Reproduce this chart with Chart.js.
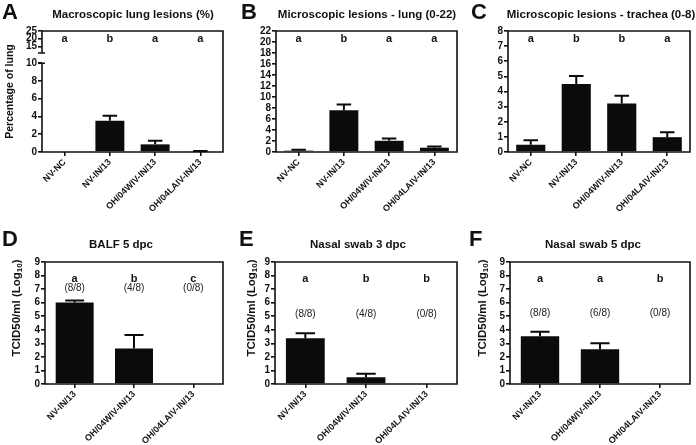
<!DOCTYPE html>
<html>
<head>
<meta charset="utf-8">
<script src="https://cdn.jsdelivr.net/npm/chart.js@4.4.1/dist/chart.umd.min.js"></script>
<style>
body { margin: 0; background: #fff; }
#fig { position: relative; width: 696px; height: 445px; overflow: hidden; font-family: 'Liberation Sans', Arial, sans-serif; color: #111; }
#fig canvas { position: absolute; }
.tag { position: absolute; font-weight: bold; font-size: 22px; line-height: 22px; }
.ttl { position: absolute; width: 240px; text-align: center; font-weight: bold; font-size: 11.5px; line-height: 12px; white-space: nowrap; }
</style>
</head>
<body>
<div id="fig">
  <canvas id="cA" width="232" height="225" style="left:0;top:0"></canvas>
  <canvas id="cB" width="232" height="225" style="left:232px;top:0"></canvas>
  <canvas id="cC" width="232" height="225" style="left:464px;top:0"></canvas>
  <canvas id="cD" width="232" height="220" style="left:0;top:225px"></canvas>
  <canvas id="cE" width="232" height="220" style="left:232px;top:225px"></canvas>
  <canvas id="cF" width="232" height="220" style="left:464px;top:225px"></canvas>

  <div class="tag" style="left:2px;top:1px">A</div>
  <div class="tag" style="left:241px;top:1px">B</div>
  <div class="tag" style="left:471px;top:1px">C</div>
  <div class="tag" style="left:2px;top:228px">D</div>
  <div class="tag" style="left:239px;top:228px">E</div>
  <div class="tag" style="left:469px;top:228px">F</div>

  <div class="ttl" style="left:13px;top:8px">Macroscopic lung lesions (%)</div>
  <div class="ttl" style="left:247px;top:8px">Microscopic lesions - lung (0-22)</div>
  <div class="ttl" style="left:481px;top:8px">Microscopic lesions - trachea (0-8)</div>
  <div class="ttl" style="left:1px;top:238px">BALF 5 dpc</div>
  <div class="ttl" style="left:238px;top:238px">Nasal swab 3 dpc</div>
  <div class="ttl" style="left:473px;top:238px">Nasal swab 5 dpc</div>
</div>
<script>
const FONT = "'Liberation Sans', Arial, sans-serif";

const lesionGroups = ['NV-NC', 'NV-IN/13', 'OH/04WIV-IN/13', 'OH/04LAIV-IN/13'];
const virusGroups = ['NV-IN/13', 'OH/04WIV-IN/13', 'OH/04LAIV-IN/13'];

// A - macroscopic lung lesions (%)
const macroMean = [0, 3.52, 0.86, 0.08];
const macroErr = [null, 4.08, 1.27, 0.1];
const macroLetters = ['a', 'b', 'a', 'a'];
const macroTicks = [0, 2, 4, 6, 8, 10, 15, 20, 25];

// B - microscopic lung lesions (0-22)
const lungMean = [0.24, 7.57, 2.04, 0.78];
const lungErr = [0.42, 8.65, 2.46, 1.0];
const lungLetters = ['a', 'b', 'a', 'a'];
const lungTicks = [0, 2, 4, 6, 8, 10, 12, 14, 16, 18, 20, 22];

// C - microscopic trachea lesions (0-8)
const tracheaMean = [0.48, 4.5, 3.21, 0.98];
const tracheaErr = [0.77, 5.03, 3.72, 1.31];
const tracheaLetters = ['a', 'b', 'b', 'a'];
const tracheaTicks = [0, 1, 2, 3, 4, 5, 6, 7, 8];

// D-F - virus titers
const titerTicks = [0, 1, 2, 3, 4, 5, 6, 7, 8, 9];
const titerTitle = ['TCID50/ml (Log', '10', ')'];

const balfMean = [6.02, 2.62, 0];
const balfErr = [6.16, 3.61, null];
const balfLetters = ['a', 'b', 'c'];
const balfPositive = ['(8/8)', '(4/8)', '(0/8)'];

const nasal3Mean = [3.37, 0.5, 0];
const nasal3Err = [3.74, 0.76, null];
const nasal3Letters = ['a', 'b', 'b'];
const nasal3Positive = ['(8/8)', '(4/8)', '(0/8)'];

const nasal5Mean = [3.52, 2.56, 0];
const nasal5Err = [3.86, 3.0, null];
const nasal5Letters = ['a', 'a', 'b'];
const nasal5Positive = ['(8/8)', '(6/8)', '(0/8)'];

// broken axis of panel A: 0-10 normal, 15-25 squeezed above the break
function macroAxis(v) { return v <= 10 ? v : 11.9 + (v - 15) * 0.173; }

function makePanel(id, p) {
  const map = p.map || (v => v);
  new Chart(document.getElementById(id), {
    type: 'bar',
    data: {
      labels: p.groups,
      datasets: [{
        data: p.mean.map(map),
        backgroundColor: '#0b0b0b',
        borderWidth: 0,
        barPercentage: 0.64,
        categoryPercentage: 1
      }]
    },
    options: {
      responsive: false,
      animation: false,
      layout: { padding: { top: p.top, right: p.right, left: 0, bottom: 0 } },
      plugins: { legend: { display: false }, tooltip: { enabled: false } },
      scales: {
        x: {
          grid: { offset: false, drawOnChartArea: false, tickLength: 4, color: '#111', lineWidth: 1.6 },
          border: { display: false },
          ticks: { autoSkip: false, minRotation: 45, maxRotation: 45, padding: 1, color: '#111',
                   font: { family: FONT, size: 9, weight: 'bold' } },
          afterFit: s => { s.height = p.xh; }
        },
        y: {
          min: 0,
          max: map(p.ticks[p.ticks.length - 1]),
          grid: { drawOnChartArea: false, tickLength: 4, color: '#111', lineWidth: 1.6 },
          border: { display: false },
          afterBuildTicks: s => { s.ticks = p.ticks.map(v => ({ value: map(v) })); },
          ticks: { autoSkip: false, padding: 1, color: '#111',
                   font: { family: FONT, size: 10, weight: 'bold' },
                   callback: (v, i) => p.ticks[i] },
          afterFit: s => { s.width = p.yw; }
        }
      }
    },
    plugins: [{
      id: 'extras',
      afterDatasetsDraw(chart) {
        const { ctx, chartArea: a, scales: { y } } = chart;
        ctx.save();
        ctx.strokeStyle = '#111';
        ctx.lineWidth = 1.6;
        // frame, with axis break where needed
        ctx.beginPath();
        ctx.moveTo(a.left, a.top);
        ctx.lineTo(a.right, a.top);
        ctx.lineTo(a.right, a.bottom);
        ctx.lineTo(a.left, a.bottom);
        if (p.gap) {
          const g0 = y.getPixelForValue(p.gap[0]);
          const g1 = y.getPixelForValue(p.gap[1]);
          ctx.lineTo(a.left, g0);
          ctx.moveTo(a.left - 4, g0); ctx.lineTo(a.left + 3, g0);
          ctx.moveTo(a.left - 4, g1); ctx.lineTo(a.left + 3, g1);
          ctx.moveTo(a.left, g1);
        }
        ctx.lineTo(a.left, a.top);
        ctx.stroke();

        // upper error whiskers
        const bars = chart.getDatasetMeta(0).data;
        ctx.strokeStyle = '#0b0b0b';
        ctx.lineWidth = 2;
        bars.forEach((bar, i) => {
          if (p.err[i] == null) return;
          const ye = y.getPixelForValue(map(p.err[i]));
          const hw = bar.width / 4;
          ctx.beginPath();
          ctx.moveTo(bar.x, bar.y);
          ctx.lineTo(bar.x, ye);
          ctx.moveTo(bar.x - hw, ye);
          ctx.lineTo(bar.x + hw, ye);
          ctx.stroke();
        });

        // significance letters and positive counts
        ctx.fillStyle = '#111';
        ctx.textAlign = 'center';
        ctx.textBaseline = 'middle';
        ctx.font = 'bold 11px ' + FONT;
        bars.forEach((bar, i) => {
          ctx.fillText(p.letters[i], bar.x, y.getPixelForValue(map(p.letterY)));
        });
        if (p.positive) {
          ctx.font = '10px ' + FONT;
          ctx.fillStyle = '#222';
          bars.forEach((bar, i) => {
            ctx.fillText(p.positive[i], bar.x, y.getPixelForValue(p.posY));
          });
        }

        // rotated y-axis title, with optional subscript part
        ctx.fillStyle = '#111';
        ctx.translate(p.tx, (a.top + a.bottom) / 2 + p.tshift);
        ctx.rotate(-Math.PI / 2);
        ctx.textAlign = 'left';
        const big = 'bold ' + p.tsize + 'px ' + FONT;
        const small = 'bold ' + Math.round(p.tsize * 0.7) + 'px ' + FONT;
        const parts = p.ytitle.map((t, i) => ({ t, f: i === 1 ? small : big, dy: i === 1 ? 3 : 0 }));
        let total = 0;
        parts.forEach(q => { ctx.font = q.f; q.w = ctx.measureText(q.t).width; total += q.w; });
        let x = -total / 2;
        parts.forEach(q => { ctx.font = q.f; ctx.fillText(q.t, x, q.dy); x += q.w; });
        ctx.restore();
      }
    }]
  });
}

makePanel('cA', { groups: lesionGroups, mean: macroMean, err: macroErr, letters: macroLetters, letterY: 20,
  ticks: macroTicks, map: macroAxis, gap: [10, 11.16], ytitle: ['Percentage of lung'], tsize: 10.5, tx: 10, tshift: 0,
  top: 31, right: 9, yw: 42, xh: 73 });
makePanel('cB', { groups: lesionGroups, mean: lungMean, err: lungErr, letters: lungLetters, letterY: 20.5,
  ticks: lungTicks, ytitle: [], tsize: 10, tx: 0, tshift: 0, top: 31, right: 7, yw: 44, xh: 73 });
makePanel('cC', { groups: lesionGroups, mean: tracheaMean, err: tracheaErr, letters: tracheaLetters, letterY: 7.5,
  ticks: tracheaTicks, ytitle: [], tsize: 10, tx: 0, tshift: 0, top: 31, right: 6, yw: 44, xh: 73 });
makePanel('cD', { groups: virusGroups, mean: balfMean, err: balfErr, letters: balfLetters, letterY: 7.75,
  positive: balfPositive, posY: 7.05, ticks: titerTicks, ytitle: titerTitle, tsize: 11.5, tx: 17, tshift: -15,
  top: 37, right: 9, yw: 45, xh: 61 });
makePanel('cE', { groups: virusGroups, mean: nasal3Mean, err: nasal3Err, letters: nasal3Letters, letterY: 7.75,
  positive: nasal3Positive, posY: 5.15, ticks: titerTicks, ytitle: titerTitle, tsize: 11.5, tx: 20, tshift: -15,
  top: 37, right: 7, yw: 43, xh: 61 });
makePanel('cF', { groups: virusGroups, mean: nasal5Mean, err: nasal5Err, letters: nasal5Letters, letterY: 7.75,
  positive: nasal5Positive, posY: 5.2, ticks: titerTicks, ytitle: titerTitle, tsize: 11.5, tx: 19, tshift: -15,
  top: 37, right: 6, yw: 46, xh: 61 });
</script>
</body>
</html>
